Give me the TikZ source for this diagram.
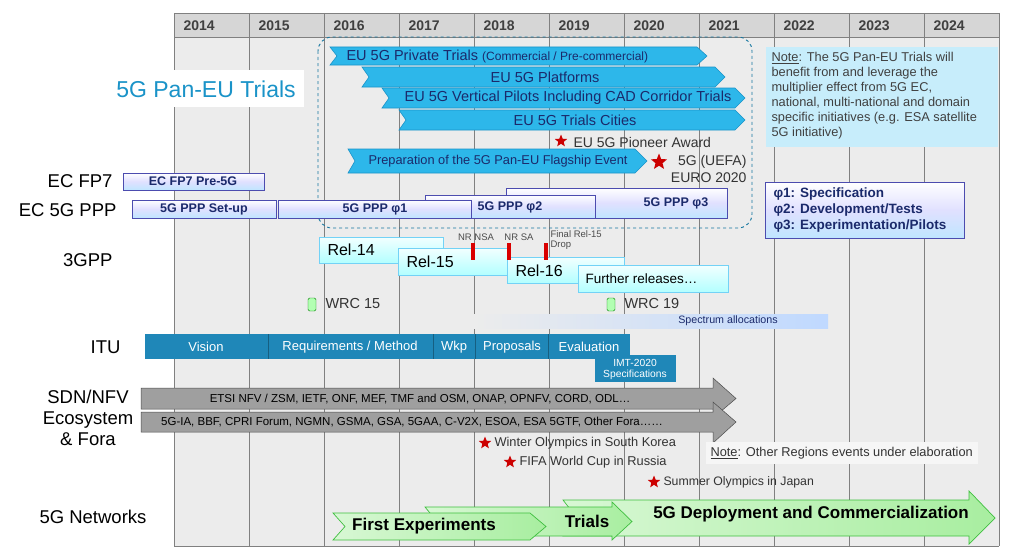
\documentclass[tikz,border=0pt]{standalone}
\usepackage{fontspec}
\setmainfont{Liberation Sans}
\usetikzlibrary{shapes.geometric}
\definecolor{cy}{HTML}{2DB7EA}
\definecolor{cyd}{HTML}{1A93C8}
\definecolor{navy}{HTML}{1B2A6B}
\definecolor{itu}{HTML}{1F87B8}
\definecolor{gr}{HTML}{ECECEC}
\definecolor{hd}{HTML}{D6D6D6}
\definecolor{ln}{HTML}{808080}
\definecolor{gfill}{HTML}{A8EEA0}
\definecolor{gdraw}{HTML}{3FBF3F}
\tikzset{
 cyarr/.style={fill=cy,draw=cyd,line width=0.6pt},
 cytxt/.style={text=navy,font=\fontsize{14.5}{16}\selectfont},
 ppp/.style={draw=blue!55!black!70,line width=0.6pt,top color=white,bottom color=blue!40!cyan!25!white,middle color=blue!12},
 ppptxt/.style={text=navy,font=\bfseries\fontsize{12.5}{14}\selectfont},
 rel/.style={draw=cyan!55,line width=0.6pt,top color=cyan!5,bottom color=cyan!30},
 reltxt/.style={font=\fontsize{16}{18}\selectfont,anchor=west},
 rowlbl/.style={font=\fontsize{18.5}{21}\selectfont,align=right,anchor=east},
 garr/.style={draw=gdraw,line width=0.7pt,left color=gfill!45,right color=gfill},
 gtxt/.style={font=\bfseries\fontsize{17}{19}\selectfont},
 redstar/.style={star,star points=5,star point ratio=2.3,fill=red!80!black,inner sep=0pt,minimum size=13pt},
 small/.style={font=\fontsize{12.8}{14}\selectfont,text=black!80},
 redmk/.style={fill=red!85!black,draw=none},
 ituseg/.style={text=white,font=\fontsize{13}{15}\selectfont}
}
\newcommand\chev[7][]{\draw[#1] (#2,#4) -- ({#3-#7},#4) -- (#3,{(#4+#5)/2}) -- ({#3-#7},#5) -- (#2,#5) -- ({#2+#6},{(#4+#5)/2}) -- cycle;}
% x1 x2 by1 by2 hy1 hy2 hx notch
\newcommand\garrow[9][]{\draw[#1] (#2,#4) -- (#8,#4) -- (#8,#6) -- (#3,{(#4+#5)/2}) -- (#8,#7) -- (#8,#5) -- (#2,#5) -- ({#2+#9},{(#4+#5)/2}) -- cycle;}
\begin{document}
\begin{tikzpicture}[x=1pt,y=-1pt]
\useasboundingbox (0,0) rectangle (1024,551);
\fill[white] (0,0) rectangle (1024,551);
% grid
\fill[gr] (174,13) rectangle (999,546);
\fill[hd] (174,13) rectangle (999,37);
\foreach \k [evaluate=\k as \xx using 174+75*\k] in {0,...,11} {\draw[ln,line width=0.7pt] (\xx,13) -- (\xx,546);}
\draw[ln,line width=0.7pt] (174,13) -- (999,13) (174,37) -- (999,37) (174,546) -- (999,546);
\foreach \yr [count=\k from 0] in {2014,...,2024} {\node[font=\bfseries\fontsize{14}{16}\selectfont,text=black!75,anchor=west] (y\yr) at ({174+75*\k+6},26) {\yr};}
% Pan-EU
\draw[dashed,draw=cyd!80!black,line width=0.9pt,rounded corners=14pt] (318,37) rectangle (752,228);
\fill[white] (100,70) rectangle (304,107);
\node[text=cyd,font=\fontsize{23}{25}\selectfont] (paneu) at (206,89) {5G Pan-EU Trials};
\chev[cyarr]{330}{707}{47}{65}{7}{10}
\node[cytxt,anchor=west] (t1) at (343,56) {EU 5G Private Trials {\fontsize{12}{13}\selectfont(Commercial / Pre-commercial)}};
\chev[cyarr]{362}{725}{67}{87}{7}{10}
\node[cytxt] (t2) at (545,77) {EU 5G Platforms};
\chev[cyarr]{382}{745}{88}{108}{7}{10}
\node[cytxt] (t3) at (568,98) {EU 5G Vertical Pilots Including CAD Corridor Trials};
\chev[cyarr]{399}{745}{110}{130}{7}{10}
\node[cytxt] (t4) at (575,120) {EU 5G Trials Cities};
\node[redstar] (s1) at (561,141) {};
\node[small,anchor=west,font=\fontsize{14}{16}\selectfont] (pa) at (570,142) {EU 5G Pioneer Award};
\chev[cyarr]{348}{647}{149}{173}{7}{12}
\node[cytxt,font=\fontsize{12.8}{14}\selectfont] (t5) at (498,161) {Preparation of the 5G Pan-EU Flagship Event};
\node[redstar,minimum size=17pt] (s2) at (659,162) {};
\node[small,font=\fontsize{14}{17}\selectfont,align=right,anchor=north east] (euro) at (750,152) {5G (UEFA)\\EURO 2020};
% note
\fill[cyan!22] (766,47) rectangle (998,147);
\node[font=\fontsize{12.8}{15}\selectfont,text=black!75,align=left,anchor=north west] (note) at (768,49) {\underline{Note}: The 5G Pan-EU Trials will\\benefit from and leverage the\\multiplier effect from 5G EC,\\national, multi-national and domain\\specific initiatives (e.g. ESA satellite\\5G initiative)};
% row labels
\node[rowlbl] (l1) at (116,181) {EC FP7};
\node[rowlbl] (l2) at (120,210) {EC 5G PPP};
\node[rowlbl] (l3) at (116,260) {3GPP};
\node[rowlbl] (l4) at (124,347) {ITU};
\node[rowlbl,align=center,anchor=center] (l5) at (88,418) {SDN/NFV\\Ecosystem\\\& Fora};
\node[rowlbl] (l6) at (150,517) {5G Networks};
% PPP
\draw[ppp] (123,173) rectangle (264,190);
\node[ppptxt] (fp7) at (193,181) {EC FP7 Pre-5G};
\draw[ppp] (506,188) rectangle (727,218);
\node[ppptxt] (p3) at (676,203) {5G PPP φ3};
\draw[ppp] (425,195) rectangle (595,218);
\node[ppptxt] (p2) at (510,207) {5G PPP φ2};
\draw[ppp] (132,200) rectangle (276,218);
\node[ppptxt] (ps) at (204,209) {5G PPP Set-up};
\draw[ppp] (278,200) rectangle (471,218);
\node[ppptxt] (p1) at (375,209) {5G PPP φ1};
\draw[ppp] (765,182) rectangle (964,238);
\node[ppptxt,align=left,anchor=west,font=\bfseries\fontsize{13.5}{16}\selectfont] (leg) at (770,210) {φ1: Specification\\φ2: Development/Tests\\φ3: Experimentation/Pilots};
% 3GPP
\draw[rel] (319,237) rectangle (443,263);
\node[reltxt] (r14) at (324,250) {Rel-14};
\draw[rel] (398,248) rectangle (509,275);
\node[reltxt] (r15) at (403,262) {Rel-15};
\draw[rel] (507,257) rectangle (624,283);
\node[reltxt] (r16) at (512,271) {Rel-16};
\draw[rel] (578,265) rectangle (728,292);
\node[reltxt,font=\fontsize{13.5}{15}\selectfont] (fr) at (582,279) {Further releases\ldots};
\fill[redmk] (471,243) rectangle (475,260);
\fill[redmk] (507,243) rectangle (511,260);
\fill[redmk] (544,243) rectangle (548,260);
\node[font=\fontsize{9.5}{10}\selectfont,text=black!70] (nsa) at (476,237) {NR NSA};
\node[font=\fontsize{9.5}{10}\selectfont,text=black!70] (nsa2) at (519,237) {NR SA};
\node[font=\fontsize{9.5}{10}\selectfont,text=black!70,align=left,anchor=west] (fin) at (547,240) {Final Rel-15\\Drop};
% WRC
\draw[draw=green!50!black,fill=green!30,rounded corners=1.5pt] (308,298) rectangle (316,311);
\node[small,font=\fontsize{14.5}{16}\selectfont,anchor=west] (w15) at (322,304) {WRC 15};
\draw[draw=green!50!black,fill=green!30,rounded corners=1.5pt] (607,298) rectangle (615,311);
\node[small,font=\fontsize{14.5}{16}\selectfont,anchor=west] (w19) at (621,304) {WRC 19};
\shade[left color=gr,right color=cyan!40!blue!25] (474,314) rectangle (828,328);
\node[font=\fontsize{10.7}{12}\selectfont,text=navy] (spec) at (728,321) {Spectrum allocations};
% ITU
\fill[itu] (145,334) rectangle (630,359);
\fill[itu] (595,355) rectangle (676,382);
\foreach \xx in {268,433,475,548} {\draw[itu!70!black,line width=0.8pt] (\xx,334) -- (\xx,359);}
\node[ituseg] (v) at (206,347) {Vision};
\node[ituseg] (rq) at (350,347) {Requirements / Method};
\node[ituseg] (wk) at (454,347) {Wkp};
\node[ituseg] (pr) at (512,347) {Proposals};
\node[ituseg] (ev) at (589,347) {Evaluation};
\node[ituseg,font=\fontsize{10.3}{11}\selectfont,align=center] (imt) at (635,369) {IMT-2020\\Specifications};
% grey arrows
\garrow[fill=gray!75,draw=gray!60!black,line width=0.5pt]{141}{736}{388}{409}{378}{418}{713}{0}
\node[font=\fontsize{11.5}{13}\selectfont] (g1) at (420,399) {ETSI NFV / ZSM, IETF, ONF, MEF, TMF and OSM, ONAP, OPNFV, CORD, ODL\ldots};
\garrow[fill=gray!75,draw=gray!60!black,line width=0.5pt]{141}{736}{412}{432}{402}{443}{713}{0}
\node[font=\fontsize{11.5}{13}\selectfont] (g2) at (412,422) {5G-IA, BBF, CPRI Forum, NGMN, GSMA, GSA, 5GAA, C-V2X, ESOA, ESA 5GTF, Other Fora\ldots\ldots};
% events
\node[redstar] (e1) at (485,443) {};
\node[small,anchor=west] (e1t) at (491,443) {Winter Olympics in South Korea};
\node[redstar] (e2) at (510,462) {};
\node[small,anchor=west] (e2t) at (516,462) {FIFA World Cup in Russia};
\node[redstar] (e3) at (654,482) {};
\node[small,anchor=west,font=\fontsize{12.3}{14}\selectfont] (e3t) at (660,482) {Summer Olympics in Japan};
\fill[gr!50!white] (706,442) rectangle (978,464);
\node[small,anchor=west] (oth) at (707,453) {\underline{Note}: Other Regions events under elaboration};
% green arrows
\garrow[garr]{563}{995}{500}{536}{491}{544}{969}{14}
\node[gtxt] (dep) at (811,514) {5G Deployment and Commercialization};
\garrow[garr]{425}{632}{507}{536}{502}{540}{612}{12}
\node[gtxt] (tri) at (587,521) {Trials};
\draw[garr] (333,513) -- (530,513) -- (546,526.5) -- (530,540) -- (333,540) -- (345,526.5) -- cycle;
\node[gtxt] (fe) at (424,526) {First Experiments};
\end{tikzpicture}
\end{document}
